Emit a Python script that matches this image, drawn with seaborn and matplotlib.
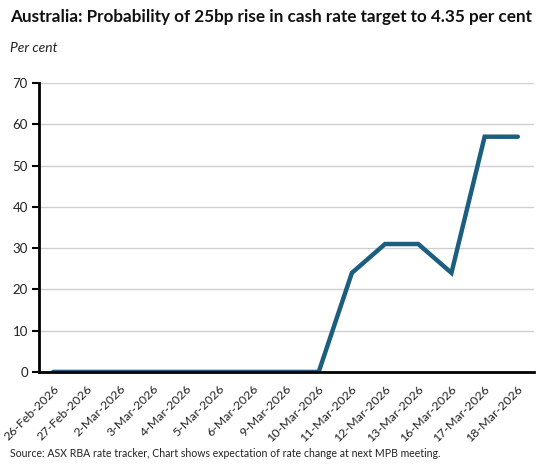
import matplotlib
matplotlib.use("Agg")
import matplotlib.pyplot as plt
import seaborn as sns
import pandas as pd

# data
dates = ['26-Feb-2026', '27-Feb-2026', '2-Mar-2026', '3-Mar-2026', '4-Mar-2026',
         '5-Mar-2026', '6-Mar-2026', '9-Mar-2026', '10-Mar-2026', '11-Mar-2026',
         '12-Mar-2026', '13-Mar-2026', '16-Mar-2026', '17-Mar-2026', '18-Mar-2026']
probability = [0, 0, 0, 0, 0, 0, 0, 0, 0, 24, 31, 31, 24, 57, 57]
y_ticks = [0, 10, 20, 30, 40, 50, 60, 70]

df = pd.DataFrame({'pos': range(len(dates)), 'prob': probability})

sns.set_theme(style="white")
plt.rcParams['font.family'] = ['Lato', 'DejaVu Sans']

fig = plt.figure(figsize=(5.48, 4.72), dpi=100)
ax = fig.add_axes([0.071, 0.212, 0.903, 0.612])

sns.lineplot(data=df, x='pos', y='prob', color='#1B5E7E', linewidth=3.2, ax=ax,
             solid_capstyle='round', solid_joinstyle='miter')

ax.set_ylim(0, 70)
ax.set_xlim(-0.43, len(dates) - 1 + 0.48)
ax.set_yticks(y_ticks)
ax.set_yticklabels([str(v) for v in y_ticks], fontsize=9.5, color='#222222')
ax.set_xticks(range(len(dates)))
ax.set_xticklabels(dates, rotation=45, ha='right', rotation_mode='anchor', fontsize=8.9, color='#222222')
ax.tick_params(axis='y', length=5, width=1.5, color='black', pad=3, left=True)
ax.tick_params(axis='x', length=0, pad=8)
ax.yaxis.grid(True, color='#d0d0d0', linewidth=1)
ax.set_axisbelow(True)
ax.set_xlabel('')
ax.set_ylabel('')

for side in ['top', 'right']:
    ax.spines[side].set_visible(False)
for side in ['left', 'bottom']:
    ax.spines[side].set_color('black')
    ax.spines[side].set_linewidth(2)

fig.text(0.018, 0.963, 'Australia: Probability of 25bp rise in cash rate target to 4.35 per cent',
         fontsize=12.3, fontweight='bold', color='#111111', va='center', ha='left')
fig.text(0.018, 0.898, 'Per cent', fontsize=10, style='italic', color='#222222', va='center', ha='left')
fig.text(0.018, 0.040, 'Source: ASX RBA rate tracker, Chart shows expectation of rate change at next MPB meeting.',
         fontsize=7.6, color='#222222', va='center', ha='left')

plt.savefig('out.png', dpi=100)
